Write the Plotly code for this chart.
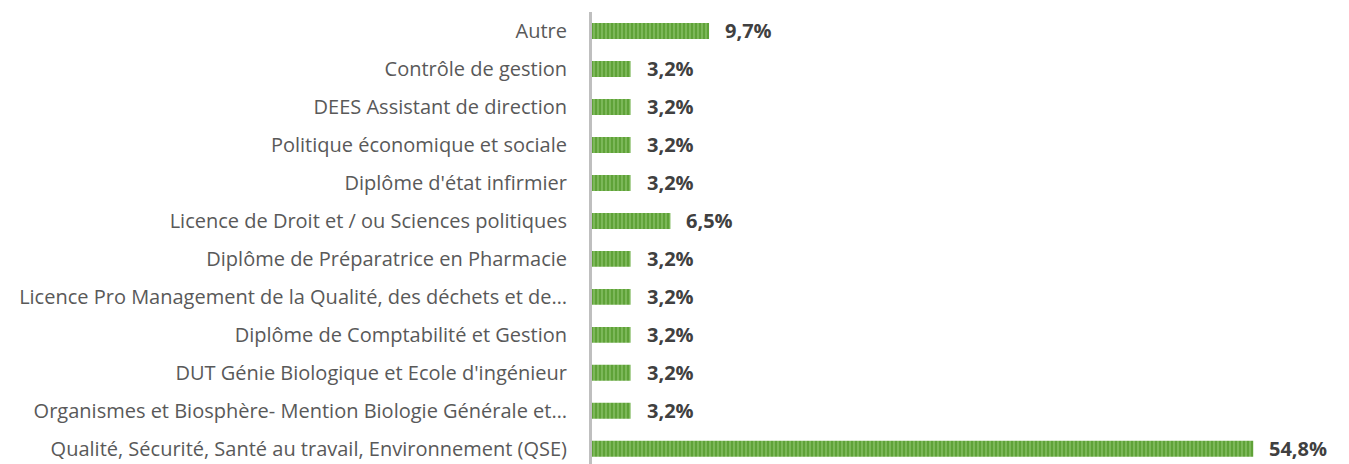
import plotly.graph_objects as go

categories = [
    "Qualité, Sécurité, Santé au travail, Environnement (QSE)",
    "Organismes et Biosphère- Mention Biologie Générale et…",
    "DUT Génie Biologique et Ecole d'ingénieur",
    "Diplôme de Comptabilité et Gestion",
    "Licence Pro Management de la Qualité, des déchets et de…",
    "Diplôme de Préparatrice en Pharmacie",
    "Licence de Droit et / ou Sciences politiques",
    "Diplôme d'état infirmier",
    "Politique économique et sociale",
    "DEES Assistant de direction",
    "Contrôle de gestion",
    "Autre",
]
values = [54.8, 3.2, 3.2, 3.2, 3.2, 3.2, 6.5, 3.2, 3.2, 3.2, 3.2, 9.7]
labels = [f"{v:.1f}%".replace(".", ",") for v in values]

fig = go.Figure()
fig.add_trace(go.Bar(
    y=categories, x=values, orientation="h",
    width=0.42,
    marker=dict(
        color="#6aaa44",
        line=dict(width=0),
        pattern=dict(shape="|", fgcolor="#a8d88a", bgcolor="#5fa238",
                     size=4, solidity=0.4, fillmode="overlay"),
    ),
    hoverinfo="skip",
))
for c, v, t in zip(categories, values, labels):
    fig.add_annotation(x=v, y=c, text=f"<b>{t}</b>", showarrow=False,
                       xanchor="left", xshift=14,
                       font=dict(family="Open Sans", size=20, color="#404040"))

fig.update_layout(
    width=1341, height=456,
    margin=dict(l=584, r=33, t=4, b=0),
    paper_bgcolor="white", plot_bgcolor="white",
    showlegend=False,
    xaxis=dict(range=[0, 60], visible=False, showgrid=False, zeroline=False),
    yaxis=dict(
        categoryorder="array", categoryarray=categories,
        range=[-0.4, 11.5],
        showline=True, linecolor="#bfbfbf", linewidth=3,
        ticks="", ticklabelstandoff=18,
        tickfont=dict(family="Open Sans", size=20, color="#595959"),
        showgrid=False, zeroline=False,
    ),
)
fig.write_html("out.html")
